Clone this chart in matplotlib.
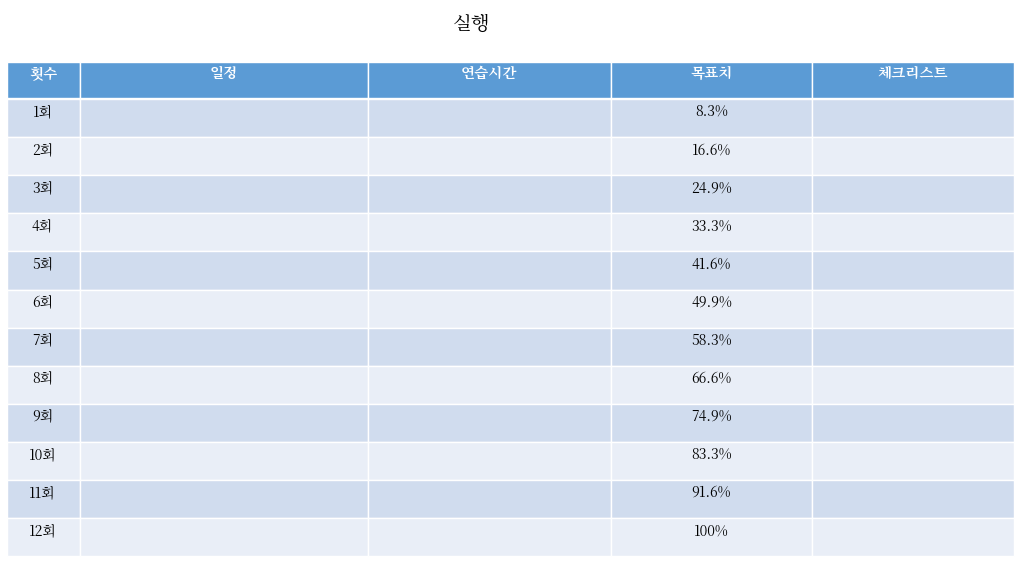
import matplotlib
matplotlib.use("Agg")
import matplotlib.pyplot as plt
from matplotlib.patches import Rectangle
from matplotlib import font_manager as fm

cjk = None
for f in fm.findSystemFonts():
    if "CJK" in f or "cjk" in f.lower():
        try:
            fm.fontManager.addfont(f)
        except Exception:
            pass
        if cjk is None or "KR" in f:
            cjk = f
names = [fm.FontProperties(fname=cjk).get_name()] if cjk else []
plt.rcParams["font.family"] = names + ["Noto Sans CJK KR", "Noto Sans CJK JP", "DejaVu Sans"]

title = "실행"
headers = ["횟수", "일정", "연습시간", "목표치", "체크리스트"]
rounds = ["1회", "2회", "3회", "4회", "5회", "6회", "7회", "8회", "9회", "10회", "11회", "12회"]
targets = ["8.3%", "16.6%", "24.9%", "33.3%", "41.6%", "49.9%", "58.3%", "66.6%", "74.9%", "83.3%", "91.6%", "100%"]

col_edges = [7, 80, 368, 611, 812, 1014]
header_top, header_bot = 62, 98
row_top, row_h = 99, 38.1

fig = plt.figure(figsize=(10.24, 5.74), dpi=100)
ax = fig.add_axes([0, 0, 1, 1])
ax.set_xlim(0, 1024)
ax.set_ylim(574, 0)
ax.axis("off")

ax.text(472, 25, title, ha="center", va="center", fontsize=14)

for i, h in enumerate(headers):
    x0, x1 = col_edges[i], col_edges[i + 1]
    ax.add_patch(Rectangle((x0, header_top), x1 - x0, header_bot - header_top,
                           facecolor="#5B9BD5", edgecolor="white", lw=1))
    ax.text((x0 + x1) / 2, 74, h, ha="center", va="center", color="white",
            fontsize=10.5, fontweight="bold")

for r in range(len(rounds)):
    y0 = row_top + r * row_h
    fc = "#D0DCEE" if r % 2 == 0 else "#E9EEF7"
    for i in range(len(headers)):
        x0, x1 = col_edges[i], col_edges[i + 1]
        ax.add_patch(Rectangle((x0, y0), x1 - x0, row_h, facecolor=fc,
                               edgecolor="white", lw=1))
    ax.text((col_edges[0] + col_edges[1]) / 2 - 1, y0 + 13, rounds[r],
            ha="center", va="center", fontsize=10)
    ax.text((col_edges[3] + col_edges[4]) / 2, y0 + 13, targets[r],
            ha="center", va="center", fontsize=10)

fig.savefig("out.png", dpi=100)
